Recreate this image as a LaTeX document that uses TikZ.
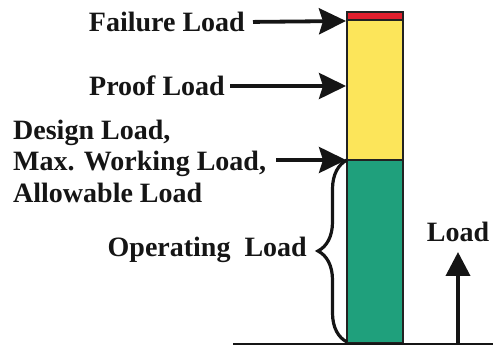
\documentclass[tikz,border=0pt]{standalone}
\usepackage{fontspec}
\setmainfont{Liberation Serif}
\usetikzlibrary{arrows.meta,decorations.pathreplacing}
\definecolor{failred}{HTML}{E2202E}
\definecolor{proofyel}{HTML}{FCE55A}
\definecolor{opgreen}{HTML}{1FA07C}
\definecolor{edge}{HTML}{222222}
\definecolor{ink}{HTML}{151515}
\tikzset{
  lbl/.style={font=\fontsize{28}{31.5}\selectfont\bfseries, text=ink, inner sep=0pt},
  arr/.style={draw=ink, line width=3.8pt, -{Stealth[length=27pt,width=26pt,inset=4pt]}},
  zone/.style={draw=edge, line width=2pt}
}
\begin{document}
\begin{tikzpicture}[x=1pt,y=-1pt]
\useasboundingbox (0,0) rectangle (498,347);
% bar
\path[zone,fill=opgreen] (347,160) rectangle (403,343);
\path[zone,fill=proofyel] (347,20) rectangle (403,160);
\path[zone,fill=failred] (347,12) rectangle (403,20);
\coordinate (fail) at (346,21);
\coordinate (proof) at (346,86);
\coordinate (design) at (346,160);
\coordinate (btop) at (347,160);
\coordinate (bbot) at (347,342);
% baseline
\coordinate (gl) at (233,344);
\coordinate (gr) at (493,344);
\draw[ink, line width=2pt] (gl) -- (gr);
% labels
\node[lbl, anchor=east] (failtxt) at (245,22) {Failure Load};
\node[lbl, anchor=east] (prooftxt) at (225,86) {Proof Load};
\node[lbl, anchor=west, align=left] (designtxt) at (13,161) {Design Load,\\Max. Working Load,\\Allowable Load};
\node[lbl, anchor=east] (optxt) at (307,250) {Operating\ \ Load};
\node[lbl] (loadtxt) at (458,232) {Load};
% arrows
\draw[arr, shorten <=8pt] (failtxt.east) -- (fail);
\draw[arr, shorten <=5pt] (prooftxt.east) -- (proof);
\path (designtxt.east |- design) ++(10,0) coordinate (dstart);
\draw[arr] (dstart) -- (design);
% brace
\draw[ink, line width=3.2pt, decorate, decoration={brace, amplitude=29pt}] (bbot) -- (btop);
% load arrow
\coordinate (lbase) at (458,343);
\coordinate (ltip) at (458,252);
\draw[ink, line width=3.8pt, -{Triangle[length=24pt,width=24pt]}] (lbase) -- (ltip);
\end{tikzpicture}
\end{document}
